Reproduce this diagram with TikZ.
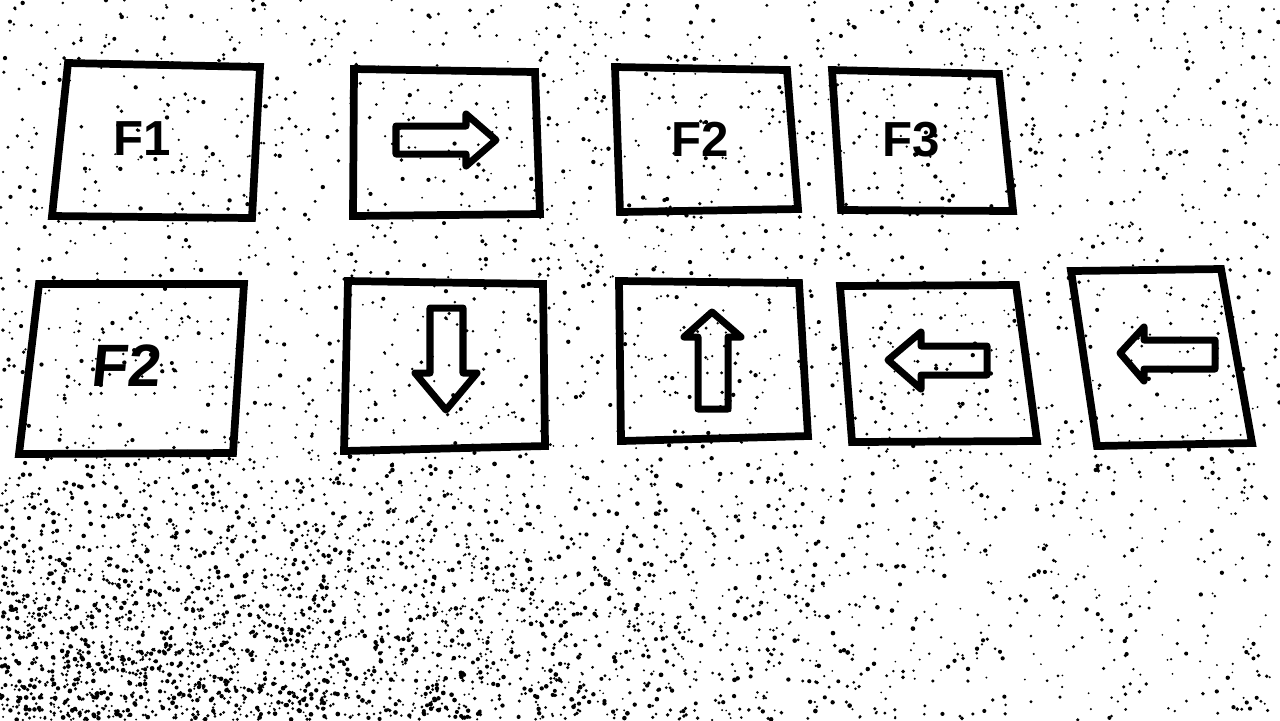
\documentclass[tikz,border=0pt]{standalone}
\usepackage{fontspec}
\setmainfont{Liberation Sans}
\begin{document}
\begin{tikzpicture}[x=0.01cm, y=-0.01cm]

    \useasboundingbox (0,0) rectangle (1280,720);
    \tikzset{card/.style={line width=2.2pt, line join=miter},
             sign/.style={line width=2pt, line join=round},
             key/.style={font=\bfseries\fontsize{14}{14}\selectfont, inner sep=0pt}}

    % speckle of the surface
    \pgfmathsetseed{42}
    \foreach \i in {1,...,3000}
        \fill ({1280*rnd},{720*rnd}) circle [radius={0.9+1.3*rnd}];
    \foreach \i in {1,...,2200}
        \fill ({950*min(rnd,rnd)},{720-300*min(rnd,rnd)}) circle [radius={1+1.4*rnd}];

    % top row
    \draw [card] (68,63) -- (260,67) -- (252,218) -- (52,216) -- cycle;
    \node (f1) at (142,139) [key] {F1};

    \draw [card] (354,69) -- (535,72) -- (540,214) -- (353,216) -- cycle;
    \draw [sign] (396,126) -- (466,126) -- (466,114) -- (496,140) -- (466,166) -- (466,154) -- (396,154) -- cycle;

    \draw [card] (615,67) -- (787,70) -- (798,209) -- (620,212) -- cycle;
    \node (f2top) at (700,139) [key] {F2};

    \draw [card] (832,70) -- (999,74) -- (1013,211) -- (841,210) -- cycle;
    \node (f3) at (911,140) [key] {F3};

    % bottom row
    \draw [card] (39,284) -- (244,284) -- (233,453) -- (19,454) -- cycle;
    \node (f2bot) at (127,366) [key, font=\bfseries\fontsize{17}{17}\selectfont, xslant=0.1] {F2};

    \draw [card] (348,281) -- (543,284) -- (545,446) -- (344,451) -- cycle;
    \draw [sign] (430,308) -- (463,308) -- (463,373) -- (477,373) -- (446,410) -- (415,373) -- (430,373) -- cycle;

    \draw [card] (619,281) -- (799,283) -- (808,436) -- (621,441) -- cycle;
    \draw [sign] (712,312) -- (741,337) -- (728,337) -- (728,409) -- (698,409) -- (698,337) -- (684,337) -- cycle;

    \draw [card] (840,286) -- (1016,285) -- (1037,441) -- (852,442) -- cycle;
    \draw [sign] (888,360) -- (921,332) -- (921,346) -- (987,346) -- (987,375) -- (921,375) -- (921,389) -- cycle;

    \draw [card] (1071,271) -- (1221,269) -- (1252,443) -- (1097,446) -- cycle;
    \draw [sign] (1120,353) -- (1144,327) -- (1144,340) -- (1215,340) -- (1215,369) -- (1144,369) -- (1144,381) -- cycle;

\end{tikzpicture}
\end{document}
